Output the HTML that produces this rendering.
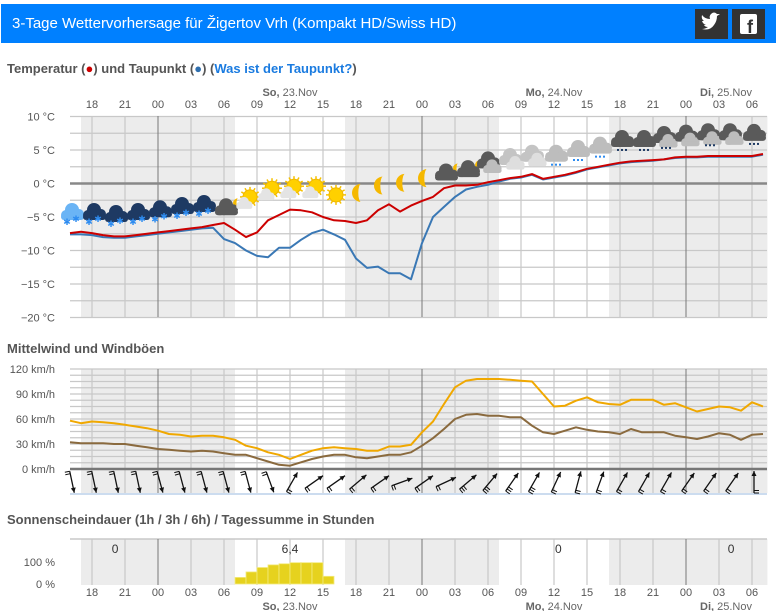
<!DOCTYPE html>
<html><head><meta charset="utf-8">
<style>
body{margin:0;background:#fff;width:777px;height:611px;overflow:hidden;font-family:"Liberation Sans",sans-serif;}
svg text{font-family:"Liberation Sans",sans-serif;}
</style></head>
<body>
<svg id="c" width="777" height="611" viewBox="0 0 777 611" xmlns="http://www.w3.org/2000/svg">
  <rect x="1" y="4" width="775" height="39" fill="#0080ff"/>
  <text x="12" y="28" font-size="15" fill="#fff">3-Tage Wettervorhersage für Žigertov Vrh (Kompakt HD/Swiss HD)</text>
  <g><rect x="695" y="9" width="33" height="30" fill="#333"/><path d="M702,29 q8,2 12,-4 q3,-4 3,-9 l3,-2 l-3,0 q-3,-3 -6,0 q-2,2 -1,5 q-5,0 -8,-4 q-1,4 2,6 l-2,0 q1,3 4,4 l-2,0 q1,2 4,2 q-3,2 -6,2z" fill="#fff"/></g>
  <g><rect x="732" y="9" width="33" height="30" fill="#333"/><rect x="740" y="14" width="17" height="20" rx="2" fill="#fff"/><text x="750" y="33" font-size="18" font-weight="bold" fill="#333" text-anchor="middle">f</text></g>
  <text x="7" y="73" font-size="13" font-weight="bold" fill="#555">Temperatur (<tspan fill="#c00">●</tspan>) und Taupunkt (<tspan fill="#2f6fae">●</tspan>) (<tspan fill="#1a7be0">Was ist der Taupunkt?</tspan>)</text>
  <text x="7" y="353" font-size="13" font-weight="bold" fill="#555">Mittelwind und Windböen</text>
  <text x="7" y="524" font-size="13" font-weight="bold" fill="#555">Sonnenscheindauer (1h / 3h / 6h) / Tagessumme in Stunden</text>
  <g id="bg"></g><g id="grid"></g><g id="marks"></g><g id="icons"></g><g id="lbl"></g>
</svg>
<script>
// ---- data ----
const tempValues = [-7.4,-7.2,-7.4,-7.7,-7.9,-7.9,-7.7,-7.5,-7.3,-7.1,-6.9,-6.7,-6.5,-6.2,-5.9,-6.9,-8.0,-7.3,-5.5,-4.7,-3.9,-4.0,-4.3,-5.0,-5.5,-5.6,-5.9,-5.5,-4.0,-3.1,-4.2,-3.3,-2.6,-2.0,-0.7,-0.3,-0.3,-0.2,0.2,0.5,0.8,1.0,1.4,0.7,1.0,1.3,1.7,2.2,2.5,2.8,3.1,3.3,3.4,3.5,3.6,3.9,4.0,4.0,4.1,4.1,4.1,4.1,4.1,4.4];
const dewValues = [-7.6,-7.6,-7.7,-8.0,-8.1,-8.1,-7.9,-7.7,-7.5,-7.3,-7.1,-6.9,-6.7,-6.6,-8.3,-8.9,-10.0,-10.8,-11.0,-9.6,-9.6,-8.4,-7.4,-6.9,-7.6,-8.4,-11.2,-12.6,-12.4,-13.4,-13.4,-14.3,-8.9,-5.0,-3.5,-2.0,-0.9,-0.5,-0.2,0.3,0.7,0.9,1.3,0.6,0.9,1.2,1.6,2.1,2.4,2.7,3.0,3.2,3.3,3.4,3.6,3.8,3.9,3.9,4.0,4.0,4.0,4.0,4.0,4.3];
const gustValues = [58,55,57,56,55,53,51,49,46,42,41,39,40,40,38,35,28,25,20,17,12,17,22,25,26,25,24,22,22,27,27,29,44,57,78,98,106,108,108,108,107,106,105,90,75,76,82,86,80,78,77,83,83,83,77,79,74,69,72,75,74,70,80,75];
const meanValues = [32,31,31,31,30,30,28,26,24,23,22,21,22,21,19,17,17,13,9,5,4,8,12,15,17,17,14,13,15,17,17,20,28,37,48,60,65,66,64,64,62,62,52,44,42,46,50,47,45,44,42,48,44,44,44,40,38,36,39,43,41,35,41,42];
const windDirs = [168,168,168,168,165,165,165,165,165,160,30,55,55,50,55,70,55,65,50,40,35,30,25,15,20,30,30,30,35,35,35,0];
const sunValues = [30,55,75,87,92,97,97,97,35];
const sunStart = 15;
const daySums = ["0","6,4","0","0"];
const daySumHours = [4.1,20,44.4,60.1];
const iconTypes = ["snowL","snow","snow","snow","snow","snow","snow","cloudMoon","sunCloud","sunCloud","sunCloud","sunCloud","sun","moon","moon","moon","moon","cloudMoon","cloudMoon","dark2","light2","light2","lightRain","lightRain","lightRain","darkRain","darkRain","dark2Rain","dark2","dark2Rain","dark2","darkRain"];
const iconTemps = [-4.4,-4.4,-4.7,-4.4,-4.0,-3.5,-3.2,-3.7,-2.6,-1.3,-1.0,-1.0,-1.7,-1.4,-0.3,0.1,0.8,1.5,2.0,3.0,3.5,4.0,4.3,5.0,5.5,6.5,6.5,6.8,7.0,7.2,7.2,7.4];
const hourLabels = ["18","21","00","03","06","09","12","15","18","21","00","03","06","09","12","15","18","21","00","03","06"];
const tempTicks = [10,5,0,-5,-10,-15,-20];
const windTicks = [120,90,60,30,0];

// ---- scales ----
const X0=70, PX=11;
const xs = t => X0 + t*PX;
const yT = v => 183.5 - v*6.7;
const yW = v => 469 - v*100/120;
const yS = v => 584 - v*0.22;
const NS="http://www.w3.org/2000/svg";
function mk(tag, attrs, parent){const e=document.createElementNS(NS,tag);for(const k in attrs)e.setAttribute(k,attrs[k]);parent.appendChild(e);return e;}
const bg=document.getElementById('bg'),grid=document.getElementById('grid'),marks=document.getElementById('marks'),icons=document.getElementById('icons'),lbl=document.getElementById('lbl');
const bands=[[1,15],[25,39],[49,63.4]];
const panels=[[116,317],[369,493],[539,585]];
panels.forEach(p=>{bands.forEach(b=>{
  const r=mk('rect',{x:xs(b[0]),y:p[0],width:xs(b[1])-xs(b[0]),height:p[1]-p[0],fill:'#ececec'},bg);
  
  
});});
for(let v=-20;v<=10;v+=2.5){ if(v===0)continue; mk('line',{x1:70,x2:767,y1:yT(v),y2:yT(v),stroke:'#c8c8c8','stroke-width':1.2},grid);}
for(let v=0;v<=120;v+=7.5){ mk('line',{x1:70,x2:767,y1:yW(v),y2:yW(v),stroke:'#c8c8c8','stroke-width':1.2},grid);}
mk('line',{x1:70,x2:767,y1:539,y2:539,stroke:'#c8c8c8','stroke-width':1.5},grid);
for(let i=0;i<21;i++){const t=2+3*i;const x=xs(t);const mid=(t%24)===8;
  [[116,317],[369,493],[539,585]].forEach(p=>mk('line',{x1:x,x2:x,y1:p[0],y2:p[1],stroke:mid?'#777':'#c8c8c8','stroke-width':mid?1:1.2},grid));
  const a=mk('text',{x:x,y:108,'font-size':11,fill:'#555','text-anchor':'middle'},lbl);a.textContent=hourLabels[i];
  
  
  const b=mk('text',{x:x,y:596,'font-size':11,fill:'#555','text-anchor':'middle'},lbl);b.textContent=hourLabels[i];
  
  
}
mk('line',{x1:70,x2:767,y1:yT(0),y2:yT(0),stroke:'#888','stroke-width':2.5},grid);
mk('line',{x1:70,x2:767,y1:469,y2:469,stroke:'#777','stroke-width':2.5},grid);
mk('line',{x1:70,x2:767,y1:494,y2:494,stroke:'#bcd0ea','stroke-width':1.5},grid);
[["So,"," 23.Nov",290],["Mo,"," 24.Nov",554],["Di,"," 25.Nov",726]].forEach(d=>{
  [[96],[610]].forEach(yy=>{const t=mk('text',{x:d[2],y:yy[0],'font-size':11,fill:'#666','text-anchor':'middle'},lbl);
  t.innerHTML='<tspan font-weight="bold">'+d[0]+'</tspan>'+d[1];
  
  });
});
tempTicks.forEach(v=>{const t=mk('text',{x:55,y:yT(v)+4,'font-size':11,fill:'#555','text-anchor':'end'},lbl);t.textContent=(v<0?'−'+(-v):v)+' °C';
  
  });
windTicks.forEach(v=>{const t=mk('text',{x:55,y:yW(v)+4,'font-size':11,fill:'#555','text-anchor':'end'},lbl);t.textContent=v+' km/h';
  
  });
[["100 %",100],["0 %",0]].forEach(d=>{const t=mk('text',{x:55,y:yS(d[1])+4,'font-size':11,fill:'#555','text-anchor':'end'},lbl);t.textContent=d[0];
  
  });
function line(vals,yf,color,name,w){const pts=vals.map((v,i)=>xs(i)+','+yf(v).toFixed(1)).join(' ');
  const p=mk('polyline',{points:pts,fill:'none',stroke:color,'stroke-width':w||2,'stroke-linejoin':'round'},marks);
  
  }
line(dewValues,yT,'#3a78b5','dewpoint-line');
line(tempValues,yT,'#cc0000','temperature-line');
line(meanValues,yW,'#8a6a3e','mean-wind-line');
line(gustValues,yW,'#f0a800','gust-line');
sunValues.forEach((v,i)=>{const r=mk('rect',{x:xs(sunStart+i),y:yS(v),width:PX,height:584-yS(v),fill:'#e6d21e',stroke:'#f3ea80','stroke-width':0.8},marks);
  
  });
daySums.forEach((s,i)=>{const t=mk('text',{x:xs(daySumHours[i]),y:553,'font-size':12,fill:'#333','text-anchor':'middle'},lbl);t.textContent=s;
  
  });
windDirs.forEach((d,i)=>{const cx=xs(2*i)+2, cy=482;const a=d*Math.PI/180;const L=11;
  const dx=Math.sin(a)*L, dy=-Math.cos(a)*L;
  const g=mk('g',{},marks);
  
  
  mk('line',{x1:cx-dx,y1:cy-dy,x2:cx+dx,y2:cy+dy,stroke:'#111','stroke-width':1.3},g);
  const hx=cx+dx,hy=cy+dy;const ux=dx/L,uy=dy/L;
  mk('polygon',{points:`${hx},${hy} ${hx-ux*5-uy*2.5},${hy-uy*5+ux*2.5} ${hx-ux*5+uy*2.5},${hy-uy*5-ux*2.5}`,fill:'#111'},g);
  const tx=cx-dx,ty=cy-dy; const n=gustValues[Math.min(2*i,63)]>90?3:2;
  for(let k=0;k<n;k++){const bx=tx+ux*k*2.5,by=ty+uy*k*2.5;mk('line',{x1:bx,y1:by,x2:bx-uy*5,y2:by+ux*5,stroke:'#111','stroke-width':1},g);}
});
function cloud(g,x,y,c,s){s=s||1;mk('circle',{cx:x-6*s,cy:y+2*s,r:5*s,fill:c},g);mk('circle',{cx:x,cy:y-3*s,r:7*s,fill:c},g);mk('circle',{cx:x+7*s,cy:y+1*s,r:5*s,fill:c},g);mk('rect',{x:x-11*s,y:y+1*s,width:23*s,height:6*s,rx:3*s,fill:c},g);}
function sun(g,x,y,r){for(let k=0;k<12;k++){const a=k*Math.PI/6;mk('line',{x1:x+Math.cos(a)*r,y1:y+Math.sin(a)*r,x2:x+Math.cos(a)*(r+3),y2:y+Math.sin(a)*(r+3),stroke:'#f5c000','stroke-width':1.5},g);}mk('circle',{cx:x,cy:y,r:r,fill:'#ffd000',stroke:'#f0b800','stroke-width':1},g);}
function moon(g,x,y,r){mk('path',{d:`M${x+3},${y-r} A${r},${r} 0 0,0 ${x+3},${y+r} A${r*0.3},${r} 0 0,1 ${x+3},${y-r}Z`,fill:'#f5b800'},g);}
function flakes(g,x,y){[[-5,6],[4,3]].forEach(o=>{const t=mk('text',{x:x+o[0],y:y+o[1]+6,'font-size':9,fill:'#2e8cf0','text-anchor':'middle'},g);t.textContent='✱';});}
function drops(g,x,y,c){for(let k=0;k<3;k++)mk('rect',{x:x-5+k*4,y:y+9,width:2,height:2,fill:c},g);}
iconTypes.forEach((tp,i)=>{const x=xs(2*i)+2,y=yT(iconTemps[i]);const g=mk('g',{},icons);
  
  
  if(tp==='snowL'){cloud(g,x,y,'#6ab4f5');flakes(g,x,y);}
  else if(tp==='snow'){cloud(g,x,y,'#1e3a63');flakes(g,x,y);}
  else if(tp==='cloudMoon'){moon(g,x+9,y-5,5);cloud(g,x,y,'#5a5a5a');}
  else if(tp==='sunCloud'){sun(g,x+2,y-4,7);cloud(g,x-4,y+3,'#e4e4e4',0.7);}
  else if(tp==='sun'){sun(g,x,y,7);}
  else if(tp==='moon'){moon(g,x,y,9);}
  else if(tp==='dark2'){cloud(g,x-2,y-2,'#5a5a5a');cloud(g,x+2,y+4,'#bdbdbd',0.8);}
  else if(tp==='dark2Rain'){cloud(g,x-2,y-2,'#5a5a5a');cloud(g,x+2,y+4,'#bdbdbd',0.8);drops(g,x,y,'#1e3a63');}
  else if(tp==='light2'){cloud(g,x-2,y-2,'#c4c4c4');cloud(g,x+3,y+4,'#dedede',0.8);}
  else if(tp==='lightRain'){cloud(g,x,y,'#bdbdbd');drops(g,x,y,'#2e8cf0');}
  else if(tp==='darkRain'){cloud(g,x,y,'#5a5a5a');drops(g,x,y,'#1e3a63');}
});
</script>
</body></html>
